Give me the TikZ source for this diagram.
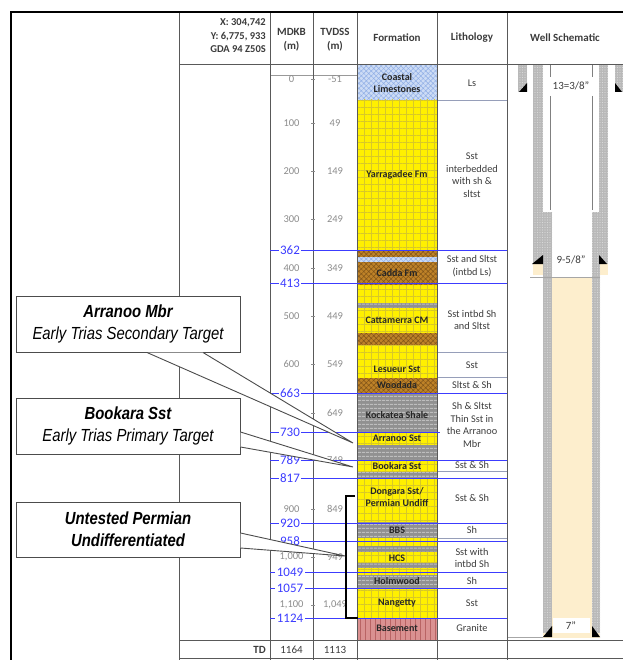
\documentclass[tikz,border=0pt]{standalone}
\usepackage{fontspec}
\setmainfont{Carlito}
\newfontfamily\narrowsans[FakeStretch=0.85]{Liberation Sans}
\usetikzlibrary{patterns.meta,calc}
\definecolor{sstyel}{RGB}{255,240,0}
\definecolor{sstgrid}{RGB}{215,200,40}
\definecolor{brnfill}{RGB}{190,130,40}
\definecolor{brndot}{RGB}{130,85,25}
\definecolor{lsblue}{RGB}{205,220,245}
\definecolor{lsdot}{RGB}{145,175,230}
\definecolor{shgray}{RGB}{145,145,145}
\definecolor{shline}{RGB}{190,190,190}
\definecolor{bsmpink}{RGB}{218,145,145}
\definecolor{bsmline}{RGB}{185,100,100}
\definecolor{depthblue}{RGB}{60,60,255}
\definecolor{beige}{RGB}{253,238,205}
\definecolor{hdrtext}{RGB}{60,60,60}
\definecolor{rowline}{RGB}{150,158,185}
\tikzset{
  sst/.style={fill=sstyel, postaction={pattern={Hatch[angle=0,distance=7pt,line width=0.45pt]}, pattern color=sstgrid}},
  brn/.style={fill=brnfill, postaction={pattern={Hatch[angle=45,distance=3.5pt,line width=0.5pt]}, pattern color=brndot}},
  lst/.style={fill=lsblue, postaction={pattern={Hatch[angle=45,distance=3.5pt,line width=0.5pt]}, pattern color=lsdot}},
  shl/.style={fill=shgray, postaction={pattern={Lines[angle=0,distance=4pt,line width=1.2pt]}, pattern color=shline}},
  bsm/.style={fill=bsmpink, postaction={pattern={Lines[angle=90,distance=5pt,line width=1pt]}, pattern color=bsmline}},
  cem/.style={fill=gray!55, postaction={pattern={Dots[distance=2.5pt,radius=0.6pt]}, pattern color=gray!30}},
  tbl/.style={draw=black!65, line width=1pt},
  rowsep/.style={draw=rowline, line width=0.7pt},
  depthline/.style={draw=depthblue, line width=0.8pt},
  depthlbl/.style={fill=white, inner xsep=1.5pt, inner ysep=0pt, text=depthblue, font=\fontsize{13}{13}\selectfont},
  numlbl/.style={text=black!45, inner sep=0pt, font=\fontsize{10.5}{10.5}\selectfont},
  hdr/.style={text=hdrtext, align=center, inner sep=0pt, font=\bfseries\fontsize{11}{14}\selectfont},
  fmlbl/.style={text=black!85, align=center, inner sep=0pt, font=\bfseries\fontsize{10}{12}\selectfont},
  lithlbl/.style={text=hdrtext, align=center, inner sep=0pt, font=\fontsize{10.3}{12.5}\selectfont},
  wlbl/.style={text=hdrtext, inner sep=0pt, font=\fontsize{11}{11}\selectfont},
  callout/.style={draw=black!70, fill=white, line width=1pt, minimum width=224pt, inner sep=0pt,
    align=center, font=\narrowsans\itshape\fontsize{17.5}{22}\selectfont},
  wedge/.style={draw=black!70, line width=0.9pt, fill=white},
  bracket/.style={draw=black, line width=1.4pt}
}
\begin{document}
\begin{tikzpicture}[x=1pt,y=-1pt]
\useasboundingbox (0,0) rectangle (623,660);

% formation column
\foreach \ya/\yb/\s in {65/100/lst, 100/250/sst, 250/257/brn, 257/262/lst, 262/285/brn,
  285/303/sst, 303/308/shl, 308/333/sst, 333/345/brn, 345/378/sst, 378/393/brn,
  393/432/shl, 432/445/sst, 445/460/shl, 460/472/sst, 472/478/shl, 478/522/sst,
  522/538/shl, 538/546/sst, 546/552/shl, 552/563/sst, 563/568/shl, 568/575/sst,
  575/588/shl, 588/618/sst, 618/640/bsm}
  \path[\s] (357,\ya) rectangle (437,\yb);

% well schematic
\path[cem] (518,65) rectangle (527,92);
\path[cem] (615,65) rectangle (623,92);
\path[cem] (533,65) rectangle (543,264);
\path[cem] (599,65) rectangle (608,264);
\fill[beige] (533,264) rectangle (543,275);
\fill[beige] (599,264) rectangle (608,275);
\path[cem] (543,212) rectangle (552,637);
\path[cem] (592,212) rectangle (600,637);
\fill[beige] (552,277) rectangle (592,637);
\fill[beige] (543,633) rectangle (600,638);
\fill (519,92) -- (527,92) -- (527,83) -- cycle;
\fill (615,83) -- (615,92) -- (622,92) -- cycle;
\fill (532,264) -- (543,264) -- (543,255) -- cycle;
\fill (599,255) -- (599,264) -- (607,264) -- cycle;
\fill (543,637) -- (552,637) -- (552,626) -- cycle;
\fill (592,626) -- (592,637) -- (600,637) -- cycle;
\draw[gray, line width=0.8pt] (550,65) -- (550,77) (550,96) -- (550,210)
  (592,65) -- (592,77) (592,96) -- (592,210);
\draw[gray!70, line width=0.8pt] (530,277) -- (600,277);
\draw[gray!70, line width=0.8pt] (507,637) -- (543,637);
\fill[white] (553,618) rectangle (590,633);
\node[wlbl] (c1338) at (571,86) {13=3/8''};
\node[wlbl] (c958) at (571,260) {9-5/8''};
\node[wlbl] (c7) at (571,626) {7''};

% table lines
\foreach \y in {100,352,377,471,538}
  \draw[rowsep] (437,\y) -- (507,\y);
\draw[tbl] (179,65) -- (623,65);
\draw[draw=black!40, line width=0.8pt] (270,75) -- (357,75);
\draw[tbl] (179,640) -- (623,640);
\draw[tbl] (179,658) -- (623,658);
\foreach \x in {179,270,313,357,437,507}
  \draw[tbl] (\x,12) -- (\x,660);
\draw[line width=1.5pt] (11,660) -- (11,12);
\draw[line width=2.2pt] (10.25,12) -- (623,12);

% depth numbers
\foreach \t/\y [count=\i] in {0/79, 100/123, 200/171, 300/219, 400/268, 500/316,
  600/364, 900/509, {1,000}/557, {1,100}/605}
  \node[numlbl] (md\i) at (291.5,\y) {\t};
\foreach \t/\y [count=\i] in {-51/79, 49/123, 149/171, 249/219, 349/268, 449/316,
  549/364, 649/413, 749/460, 849/509, 949/557, {1,049}/605}
  {\node[numlbl] (tv\i) at (335,\y) {\t};
   \draw[black!45, line width=0.6pt] (311,\y) -- (315,\y);}

% blue depth markers
\foreach \d/\y/\xe in {362/250/507, 413/283/507, 663/393/507, 730/432/440,
  789/460/507, 817/478/507, 920/523/507, 958/541/507, 1049/572/507,
  1057/588/507, 1124/618/507}
  {\draw[depthline] (270,\y) -- (\xe,\y);
   \node[depthlbl] (d\d) at (290,\y) {\d};}

% formation names
\foreach \y/\t [count=\i] in {83/{Coastal\\Limestones}, 175/{Yarragadee Fm}, 273/{Cadda Fm},
  320/{Cattamerra CM}, 369/{Lesueur Sst}, 385/{Woodada}, 415/{Kockatea Shale},
  438/{Arranoo Sst}, 466/{Bookara Sst}, 497/{Dongara Sst/\\Permian Undiff},
  530/{BBS}, 558/{HCS}, 581/{Holmwood}, 603/{Nangetty}, 628/{Basement}}
  \node[fmlbl] (fm\i) at (397,\y) {\t};

% lithology
\foreach \y/\t [count=\i] in {83/{Ls}, 175/{Sst\\interbedded\\with sh \&\\sltst},
  266/{Sst and Sltst\\(intbd Ls)}, 320/{Sst intbd Sh\\and Sltst}, 365/{Sst},
  385/{Sltst \& Sh}, 425/{Sh \& Sltst\\Thin Sst in\\the Arranoo\\Mbr}, 465/{Sst \& Sh},
  498/{Sst \& Sh}, 530/{Sh}, 558/{Sst with\\intbd Sh}, 581/{Sh}, 603/{Sst}, 628/{Granite}}
  \node[lithlbl] (lt\i) at (472,\y) {\t};

% headers
\node[hdr, align=right, anchor=east, font=\bfseries\fontsize{10.5}{13.5}\selectfont] (coords) at (266,36) {X: 304,742\\Y: 6,775, 933\\GDA 94 Z50S};
\node[hdr] (mdkb) at (291.5,40) {MDKB\\(m)};
\node[hdr] (tvdss) at (335,40) {TVDSS\\(m)};
\node[hdr] (fmhead) at (397,38) {Formation};
\node[hdr] (lithhead) at (472,38) {Lithology};
\node[hdr] (wellhead) at (565,38) {Well Schematic};
\node[hdr, anchor=east] (td) at (266,650) {TD};
\node[hdr, font=\fontsize{11}{11}\selectfont] (tdmd) at (291.5,650) {1164};
\node[hdr, font=\fontsize{11}{11}\selectfont] (tdtv) at (335,650) {1113};

% bracket
\draw[bracket] (355,496) -| (346,618) -- (358,618);

% callouts
\node[callout, minimum height=56pt] (arr) at (128,324) {{\bfseries Arranoo Mbr}\\Early Trias Secondary Target};
\node[callout, minimum height=56pt] (bk) at (128,426) {{\bfseries Bookara Sst}\\Early Trias Primary Target};
\node[callout, minimum height=55pt, font=\narrowsans\itshape\bfseries\fontsize{17.5}{22}\selectfont] (ut) at (128,529.5) {Untested Permian\\Undifferentiated};
\coordinate (arrtip) at (353,443);
\coordinate (bktip) at (353,467);
\coordinate (uttip) at (345,556);
\path[wedge] ([xshift=19pt]arr.south) -- (arrtip) -- ([xshift=75pt]arr.south);
\path[wedge] ([yshift=-6pt]bk.east) -- (bktip) -- ([yshift=-21pt]bk.east);
\path[wedge] ([yshift=-3.5pt]ut.east) -- (uttip) -- ([yshift=-18.5pt]ut.east);
\end{tikzpicture}
\end{document}
